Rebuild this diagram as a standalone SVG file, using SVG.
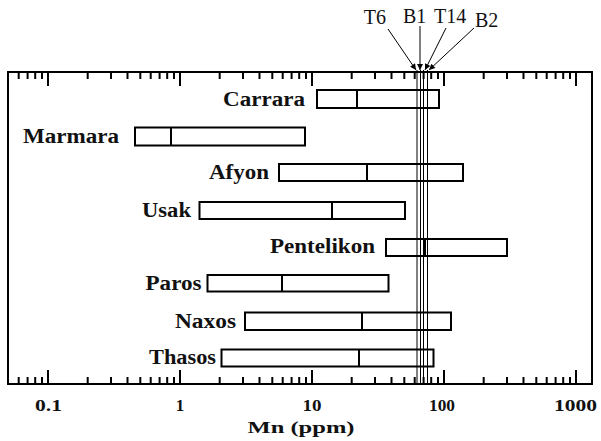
<svg xmlns="http://www.w3.org/2000/svg" width="601" height="441" viewBox="0 0 601 441">
<style>
.frame{fill:none;stroke:#000;stroke-width:2}
.tick{fill:none;stroke:#000;stroke-width:2}
.box{fill:#fff;stroke:#000;stroke-width:2}
.med{stroke:#000;stroke-width:2}
.lbl{font-family:"Times New Roman","Liberation Serif",serif;font-weight:bold;font-size:20px;fill:#111;text-anchor:end}
.ax{font-family:"Times New Roman","Liberation Serif",serif;font-weight:bold;font-size:17px;fill:#111;text-anchor:middle}
.samp{font-family:"Times New Roman","Liberation Serif",serif;font-size:20px;fill:#111}
.vl{stroke:#000;stroke-width:1}
.arr{stroke:#000;stroke-width:1;fill:none;marker-end:url(#ah)}
</style>
<defs>
<marker id="ah" viewBox="0 0 10 10" refX="10" refY="5" markerWidth="8" markerHeight="6" markerUnits="userSpaceOnUse" orient="auto">
<path d="M0 0L10 5L0 10z" fill="#000"/>
</marker>
</defs>
<rect width="601" height="441" fill="#fff"/>
<g id="axes">
<rect class="frame" x="8" y="72" width="584" height="312"/>
<path class="tick" d="M18.7 72v7M27.6 72v7M35.2 72v7M42 72v7M87.7 72v7M111 72v7M127.5 72v7M140.3 72v7M150.7 72v7M159.6 72v7M167.2 72v7M174 72v7M219.7 72v7M243 72v7M259.5 72v7M272.3 72v7M282.7 72v7M291.6 72v7M299.2 72v7M306 72v7M351.7 72v7M375 72v7M391.5 72v7M404.3 72v7M414.7 72v7M423.6 72v7M431.2 72v7M438 72v7M483.7 72v7M507 72v7M523.5 72v7M536.3 72v7M546.7 72v7M555.6 72v7M563.2 72v7M570 72v7"/>
<path class="tick" d="M48 72v14M180 72v14M312 72v14M444 72v14M576 72v14"/>
<path class="tick" d="M18.7 384v-7M27.6 384v-7M35.2 384v-7M42 384v-7M87.7 384v-7M111 384v-7M127.5 384v-7M140.3 384v-7M150.7 384v-7M159.6 384v-7M167.2 384v-7M174 384v-7M219.7 384v-7M243 384v-7M259.5 384v-7M272.3 384v-7M282.7 384v-7M291.6 384v-7M299.2 384v-7M306 384v-7M351.7 384v-7M375 384v-7M391.5 384v-7M404.3 384v-7M414.7 384v-7M423.6 384v-7M431.2 384v-7M438 384v-7M483.7 384v-7M507 384v-7M523.5 384v-7M536.3 384v-7M546.7 384v-7M555.6 384v-7M563.2 384v-7M570 384v-7"/>
<path class="tick" d="M48 384v-14M180 384v-14M312 384v-14M444 384v-14M576 384v-14"/>
<text class="ax" x="48.5" y="411" textLength="27" lengthAdjust="spacingAndGlyphs">0.1</text>
<text class="ax" x="180" y="411">1</text>
<text class="ax" x="312" y="411" textLength="19" lengthAdjust="spacingAndGlyphs">10</text>
<text class="ax" x="442" y="411" textLength="26" lengthAdjust="spacingAndGlyphs">100</text>
<text class="ax" x="575.5" y="411" textLength="43" lengthAdjust="spacingAndGlyphs">1000</text>
<text class="ax" x="301" y="433" textLength="107" lengthAdjust="spacingAndGlyphs">Mn (ppm)</text>
</g>
<g id="Carrara">
<rect class="box" x="317" y="90" width="122" height="18"/>
<line class="med" x1="357" y1="90" x2="357" y2="108"/>
<text class="lbl" x="305" y="106" textLength="82" lengthAdjust="spacingAndGlyphs">Carrara</text>
</g>
<g id="Marmara">
<rect class="box" x="135" y="127.5" width="170" height="18"/>
<line class="med" x1="171" y1="127.5" x2="171" y2="145.5"/>
<text class="lbl" x="119" y="143" textLength="96" lengthAdjust="spacingAndGlyphs">Marmara</text>
</g>
<g id="Afyon">
<rect class="box" x="279" y="164" width="184" height="17"/>
<line class="med" x1="367" y1="164" x2="367" y2="181"/>
<text class="lbl" x="269" y="179" textLength="60" lengthAdjust="spacingAndGlyphs">Afyon</text>
</g>
<g id="Usak">
<rect class="box" x="199.5" y="202" width="205.5" height="17"/>
<line class="med" x1="332" y1="202" x2="332" y2="219"/>
<text class="lbl" x="191" y="217" textLength="49" lengthAdjust="spacingAndGlyphs">Usak</text>
</g>
<g id="Pentelikon">
<rect class="box" x="386" y="239" width="121" height="17"/>
<line class="med" x1="425" y1="239" x2="425" y2="256"/>
<text class="lbl" x="375" y="253" textLength="105" lengthAdjust="spacingAndGlyphs">Pentelikon</text>
</g>
<g id="Paros">
<rect class="box" x="207.5" y="275" width="181" height="16.5"/>
<line class="med" x1="282" y1="275" x2="282" y2="291.5"/>
<text class="lbl" x="201.5" y="290" textLength="56" lengthAdjust="spacingAndGlyphs">Paros</text>
</g>
<g id="Naxos">
<rect class="box" x="245" y="312.5" width="206" height="17.5"/>
<line class="med" x1="362" y1="312.5" x2="362" y2="330"/>
<text class="lbl" x="236" y="327.5" textLength="61" lengthAdjust="spacingAndGlyphs">Naxos</text>
</g>
<g id="Thasos">
<rect class="box" x="221.5" y="349.5" width="212" height="17"/>
<line class="med" x1="359" y1="349.5" x2="359" y2="366.5"/>
<text class="lbl" x="216" y="364" textLength="67" lengthAdjust="spacingAndGlyphs">Thasos</text>
</g>
<g id="samples">
<line class="vl" x1="417" y1="70" x2="417" y2="384"/>
<line class="vl" x1="420.5" y1="70" x2="420.5" y2="384"/>
<line class="vl" x1="423.5" y1="70" x2="423.5" y2="384"/>
<line class="vl" x1="427.5" y1="70" x2="427.5" y2="384"/>
<text class="samp" x="386" y="24" text-anchor="end">T6</text>
<text class="samp" x="403" y="23">B1</text>
<text class="samp" x="434" y="23">T14</text>
<text class="samp" x="475" y="27">B2</text>
</g>
<g id="connectors">
<line class="arr" x1="388" y1="29" x2="416" y2="70"/>
<line class="arr" x1="420" y1="26" x2="420" y2="70"/>
<line class="arr" x1="446" y1="28" x2="425" y2="70"/>
<line class="arr" x1="474" y1="28" x2="429" y2="70"/>
</g>
</svg>
